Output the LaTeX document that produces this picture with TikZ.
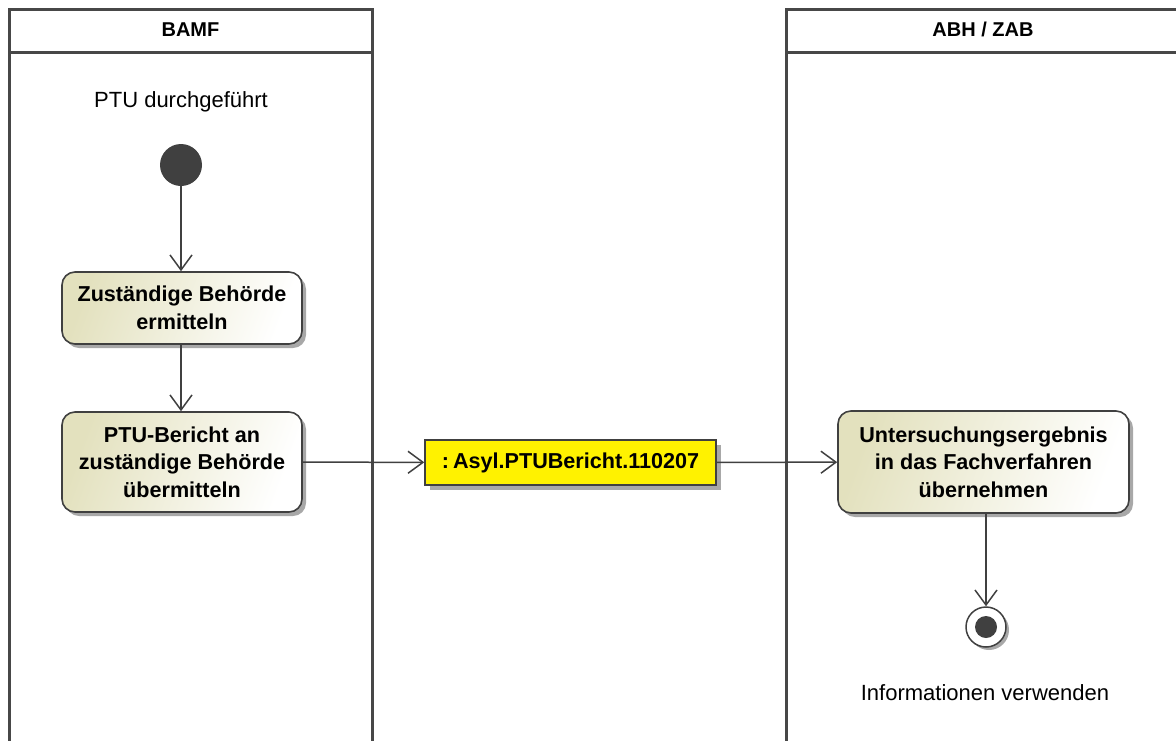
\documentclass[tikz,border=0pt]{standalone}
\usepackage{fontspec}
\setmainfont{Liberation Sans}
\usetikzlibrary{arrows.meta,shadows}
\definecolor{lineC}{HTML}{404040}
\definecolor{laneC}{HTML}{474747}
\definecolor{actC}{HTML}{E3E1BE}
\definecolor{shadowC}{HTML}{A8A8A8}
\tikzset{
  lane/.style={draw=laneC, line width=3pt},
  flow/.style={draw=lineC, line width=1.5pt, -{Straight Barb[length=15pt,width=22pt,line width=1.5pt]}},
  action/.style={draw=lineC, line width=1.6pt, rounded corners=13pt, align=center,
    left color=actC, right color=white, shading angle=70,
    font=\fontsize{21.6}{27.5}\selectfont\bfseries,
    drop shadow={shadow xshift=4pt, shadow yshift=-4pt, fill=shadowC, opacity=1},
    inner sep=0pt},
  objnode/.style={draw=lineC, line width=1.5pt, fill=yellow, inner sep=0pt,
    font=\fontsize{21.6}{26}\selectfont\bfseries,
    drop shadow={shadow xshift=5pt, shadow yshift=-5pt, fill=shadowC, opacity=1}},
  lanetitle/.style={font=\fontsize{20}{24}\selectfont\bfseries},
  lbl/.style={font=\fontsize{22}{26}\selectfont},
}
\begin{document}
\begin{tikzpicture}[x=1pt,y=-1pt]
\useasboundingbox (0,0) rectangle (1176,740);
\begin{scope}
\clip (0,0) rectangle (1176,740);
% lanes
\draw[lane] (9,760) -- (9,9) -- (372,9) -- (372,760);
\draw[lane] (9,52) -- (372,52);
\draw[lane] (786,760) -- (786,9) -- (1190,9);
\draw[lane] (786,52) -- (1190,52);
\end{scope}
\node[lanetitle] (t1) at (190.5,29.5) {BAMF};
\node[lanetitle] (t2) at (983,29.5) {ABH / ZAB};
\node[lbl] (l1) at (181,102) {PTU durchgeführt};
\node[circle, fill=lineC, minimum size=42pt, inner sep=0pt] (start) at (181,165) {};
\node[action, minimum width=240pt, minimum height=72pt] (a1) at (182,308) {Zuständige Behörde\\ermitteln};
\node[action, minimum width=240pt, minimum height=100pt] (a2) at (182,462) {PTU-Bericht an\\zuständige Behörde\\übermitteln};
\node[objnode, minimum width=291pt, minimum height=45pt] (obj) at (570.5,462.5) {:\hspace{4pt}Asyl.PTUBericht.110207};
\node[action, minimum width=291pt, minimum height=102pt] (a3) at (983.5,462) {Untersuchungsergebnis\\in das Fachverfahren\\übernehmen};
\node[circle, draw=lineC, line width=1.5pt, fill=white, minimum size=40pt, inner sep=0pt,
  drop shadow={shadow xshift=3pt, shadow yshift=-3pt, fill=shadowC, opacity=1}] (end) at (986,627) {};
\node[circle, fill=lineC, minimum size=22pt, inner sep=0pt] (endin) at (end.center) {};
\node[lbl] (l2) at (985,693) {Informationen verwenden};
\draw[flow] (start) -- (start |- a1.north);
\draw[flow] (a1.south -| start) -- (a2.north -| start);
\draw[flow] (a2) -- (obj);
\draw[flow] (obj) -- (a3);
\draw[flow] (a3.south -| end) -- (end);
\end{tikzpicture}
\end{document}
